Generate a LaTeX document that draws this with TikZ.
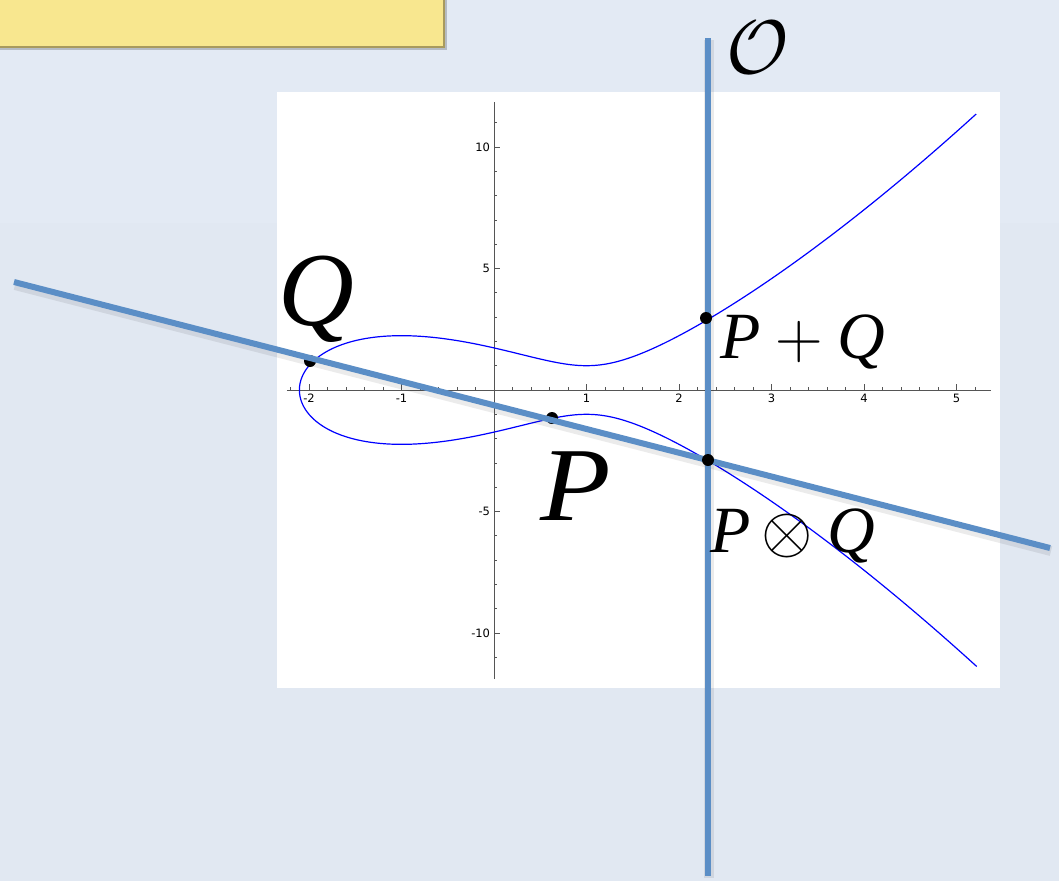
\RequirePackage{fix-cm}
\documentclass[tikz,border=0pt]{standalone}
\usepackage{fontspec}
\setmainfont{Liberation Serif}
\newfontfamily\tickfont{DejaVu Sans}
\definecolor{bg}{HTML}{E1E8F2}
\definecolor{bgtop}{HTML}{E3EAF4}
\definecolor{note}{HTML}{F8E78F}
\definecolor{noteedge}{HTML}{A89A5E}
\definecolor{steel}{HTML}{5B8EC6}
\definecolor{axisgray}{HTML}{555555}
\tikzset{
  bigline/.style={steel, line width=6pt},
  shadowline/.style={black, opacity=0.08, line width=10pt},
  dot/.style={circle, fill=black, inner sep=0pt, minimum size=12pt},
  biglabel/.style={inner sep=0pt, font=\fontsize{105}{110}\selectfont\itshape},
  midlabel/.style={inner sep=0pt, font=\fontsize{66}{70}\selectfont},
  ticklab/.style={font=\tickfont\fontsize{11.5}{12}\selectfont, inner sep=1pt},
  curve/.style={blue, line width=1.2pt},
  axis/.style={axisgray, line width=0.8pt},
  declare function={xx(\t)=-2.1038+\t*\t;
    yy(\t)=sign(\t)*sqrt(max(xx(\t)*xx(\t)*xx(\t)-3*xx(\t)+3,0));}
}
\begin{document}
\begin{tikzpicture}[x=1pt,y=-1pt]
\useasboundingbox (0,0) rectangle (1059,881);
\fill[bg] (0,0) rectangle (1059,881);
\fill[bgtop] (0,0) rectangle (1059,223);
% note box
\fill[black,opacity=0.2] (-5,-5) rectangle (447,50);
\fill[note] (-5,-5) rectangle (444,47);
\draw[noteedge, line width=1.5pt] (444,-5) -- (444,47) -- (-5,47);
% plot area
\fill[white] (277,92) rectangle (1000,688);
\begin{scope}[shift={(494,390)}, x=92.5pt, y=24.3pt]
  \draw[axis] (-2.24,0) -- (5.37,0);
  \draw[axis] (0,-11.9) -- (0,11.85);
  \foreach \i in {-11,...,26} \draw[axis] (\i*0.2,0) -- ++(0,3pt);
  \foreach \i in {-2,-1,1,2,3,4,5} {
    \draw[axis] (\i,0) -- ++(0,6pt);
    \node[ticklab, anchor=north] at (\i,-0.12) {\i};
  }
  \foreach \j in {-11,...,11} \draw[axis] (0,\j) -- ++(3pt,0);
  \foreach \j in {-10,-5,5,10} {
    \draw[axis] (0,\j) -- ++(6pt,0);
    \node[ticklab, anchor=east] at (-0.03,\j) {\j};
  }
  \draw[curve] plot[domain=-2.706:2.706, samples=301, smooth] ({xx(\x)}, {yy(\x)});
\end{scope}
% points
\node[dot] (Q) at (310,361) {};
\node[dot] (P) at (552,418) {};
% lines
\coordinate (lA) at (14,282);
\coordinate (lB) at (1050,548);
\coordinate (vT) at (708,38);
\coordinate (vB) at (708,876);
\draw[shadowline] ([shift={(1,3)}]lA) -- ([shift={(1,3)}]lB);
\draw[shadowline] ([shift={(1,2)}]vT) -- ([shift={(1,2)}]vB);
\draw[bigline] (lA) -- (lB);
\draw[bigline] (vT) -- (vB);
\node[dot] (PQsum) at (706,318) {};
\node[dot] (PQthird) at (708,460) {};
% labels
\node[biglabel, anchor=base west] (Qlab) at (278,325) {Q};
\node[biglabel, anchor=base west, xscale=1.1] (Plab) at (540,520) {P};
\node[midlabel, anchor=base west] (sumlab) at (720,358) {\textit{P}${}+{}$\textit{Q}};
\node[midlabel, anchor=base west] (prodlab) at (710,552) {\textit{P}$\mkern3mu\otimes\mkern4mu$\textit{Q}};
\node[inner sep=0pt, anchor=base west, font=\fontsize{76}{80}\selectfont] (Olab) at (726,73) {$\mathcal{O}$};
\end{tikzpicture}
\end{document}
